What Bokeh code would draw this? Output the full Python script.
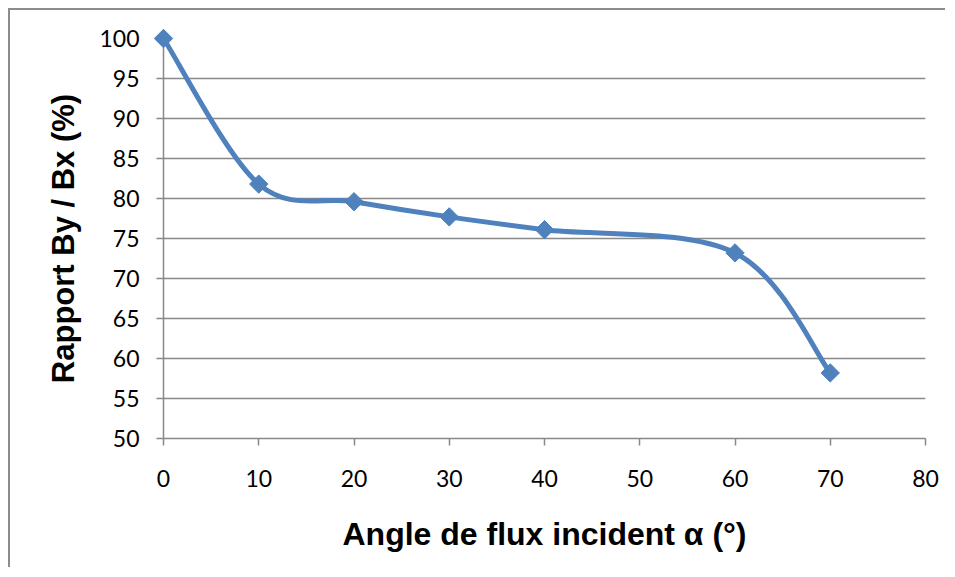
import numpy as np
from bokeh.plotting import figure
from bokeh.models import FixedTicker, Range1d
from bokeh.embed import file_html
from bokeh.resources import INLINE

# ---- data ----
angle = [0, 10, 20, 30, 40, 60, 70]
ratio = [100.0, 81.8, 79.6, 77.7, 76.1, 73.2, 58.2]
x_ticks = [0, 10, 20, 30, 40, 50, 60, 70, 80]
y_ticks = [50, 55, 60, 65, 70, 75, 80, 85, 90, 95, 100]
x_title = "Angle de flux incident α (°)"
y_title = "Rapport By / Bx (%)"

GRID = "#898989"
BLUE = "#4F81BD"

p = figure(width=937, height=559,
           x_range=Range1d(x_ticks[0], x_ticks[-1]),
           y_range=Range1d(y_ticks[0], y_ticks[-1]),
           output_backend="svg", toolbar_location=None,
           min_border_left=153, min_border_top=28,
           min_border_right=22, min_border_bottom=131,
           background_fill_color="white", border_fill_color="white")
p.styles = {"border-left": "2px solid #8c8c8c", "border-top": "2px solid #8c8c8c",
            "margin-left": "8px", "margin-top": "8px"}
p.outline_line_color = None

p.xaxis.ticker = FixedTicker(ticks=x_ticks)
p.yaxis.ticker = FixedTicker(ticks=y_ticks)
p.xgrid.grid_line_color = None
p.ygrid.grid_line_color = GRID
p.ygrid.grid_line_width = 1.5

for ax in (p.xaxis[0], p.yaxis[0]):
    ax.axis_line_color = GRID
    ax.axis_line_width = 1.5
    ax.major_tick_line_color = GRID
    ax.major_tick_line_width = 1.5
    ax.major_tick_out = 7
    ax.major_tick_in = 0
    ax.minor_tick_line_color = None
    ax.major_label_text_font = "Lato"
    ax.major_label_text_font_size = "23px"
    ax.major_label_text_color = "black"
    ax.axis_label_text_font = "Liberation Sans"
    ax.axis_label_text_font_style = "bold"
    ax.axis_label_text_color = "black"

p.xaxis.axis_label_text_font_size = "32px"
p.yaxis.axis_label_text_font_size = "31px"
p.xaxis.axis_label = x_title
p.yaxis.axis_label = y_title
p.xaxis.major_label_standoff = 24
p.yaxis.major_label_standoff = 17
p.xaxis.axis_label_standoff = 26
p.yaxis.axis_label_standoff = 15

# smooth (Catmull-Rom style) Bezier segments through the data points, as Excel draws
xs = np.array(angle, dtype=float)
ys = np.array(ratio, dtype=float)
n = len(xs)
x0, y0, x1, y1, cx0, cy0, cx1, cy1 = [], [], [], [], [], [], [], []
for i in range(n - 1):
    im = max(i - 1, 0)
    ip2 = min(i + 2, n - 1)
    x0.append(xs[i]); y0.append(ys[i])
    x1.append(xs[i + 1]); y1.append(ys[i + 1])
    cx0.append(xs[i] + (xs[i + 1] - xs[im]) / 6.0)
    cy0.append(ys[i] + (ys[i + 1] - ys[im]) / 6.0)
    cx1.append(xs[i + 1] - (xs[ip2] - xs[i]) / 6.0)
    cy1.append(ys[i + 1] - (ys[ip2] - ys[i]) / 6.0)

p.bezier(x0=x0, y0=y0, x1=x1, y1=y1, cx0=cx0, cy0=cy0, cx1=cx1, cy1=cy1,
         line_color=BLUE, line_width=5, level="overlay")
p.scatter(angle, ratio, marker="square", size=13, angle=np.pi / 4,
          fill_color=BLUE, line_color=BLUE, line_width=1, level="overlay")

open("out.html", "w").write(file_html(p, INLINE))
